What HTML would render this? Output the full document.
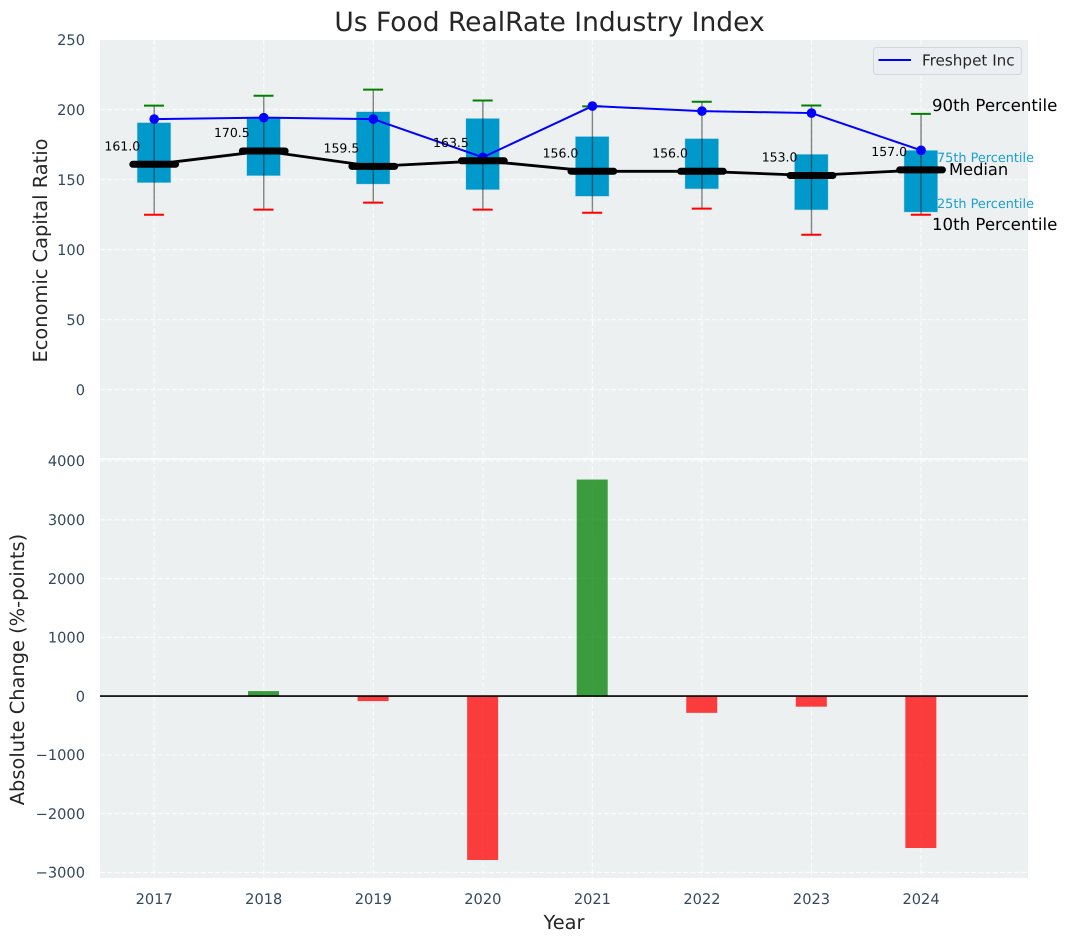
<!DOCTYPE html>
<html lang="en">
<head>
<meta charset="utf-8">
<title>Us Food RealRate Industry Index</title>
<style>
html,body{margin:0;padding:0;background:#fff;}
body{width:1067px;height:942px;overflow:hidden;}
svg{display:block;font-family:"DejaVu Sans","Liberation Sans",sans-serif;text-rendering:geometricPrecision;}
</style>
</head>
<body>
<svg id="chart" xmlns="http://www.w3.org/2000/svg" width="1067" height="942" viewBox="0 0 1067 942">
  <text x="549.5" y="31" text-anchor="middle" font-size="26.5" fill="#262626">Us Food RealRate Industry Index</text>
  <rect x="100" y="40" width="928" height="419" fill="#ecf0f1"/>
  <rect x="100" y="459" width="928" height="419" fill="#ecf0f1"/>
  <g id="grid"></g>
  <line x1="100" y1="459" x2="1028" y2="459" stroke="#ffffff" stroke-width="1.5"/>
  <g id="bars"></g>
  <g id="boxes"></g>
  <g id="lines"></g>
  <g id="ticks"></g>
  <g id="labels"></g>
  <text transform="translate(47,250.5) rotate(-90)" text-anchor="middle" font-size="19.4" fill="#262626">Economic Capital Ratio</text>
  <text transform="translate(24,669.5) rotate(-90)" text-anchor="middle" font-size="19.4" fill="#262626">Absolute Change (%-points)</text>
  <text x="564" y="929" text-anchor="middle" font-size="19.4" fill="#262626">Year</text>
  <g>
    <text x="932" y="111" font-size="16.6" fill="#000000">90th Percentile</text>
    <text x="937" y="162" font-size="12.85" fill="#1a9fcf">75th Percentile</text>
    <text x="949" y="175" font-size="16.3" fill="#000000">Median</text>
    <text x="937" y="208" font-size="12.85" fill="#1a9fcf">25th Percentile</text>
    <text x="932" y="230" font-size="16.6" fill="#000000">10th Percentile</text>
  </g>
  <g>
    <rect x="873.5" y="47.5" width="148" height="27" rx="3" fill="#ebeef3" stroke="#d3d6da" stroke-width="1"/>
    <line x1="878.5" y1="60" x2="911" y2="60" stroke="#0000ff" stroke-width="2"/>
    <text x="922" y="65.5" font-size="15.2" fill="#262626">Freshpet Inc</text>
  </g>
</svg>
<script>
const years = [2017, 2018, 2019, 2020, 2021, 2022, 2023, 2024];
const p90 = [202.9, 210, 214.3, 206.6, 202.4, 205.7, 203, 197];
const p75 = [190.6, 194, 198.4, 193.6, 180.7, 179.2, 168, 170.8];
const medians = [161.0, 170.5, 159.5, 163.5, 156.0, 156.0, 153.0, 157.0];
const p25 = [148, 153, 147, 143, 138.3, 143.6, 128.6, 127];
const p10 = [125, 128.6, 133.6, 128.6, 126.4, 129.3, 110.7, 125];
const freshpet = [193.3, 194.3, 193.3, 166, 202.6, 199, 197.6, 171];
const changes = [0, 85, -85, -2789, 3685, -285, -180, -2585];
const topTicks = [0, 50, 100, 150, 200, 250];
const bottomTicks = [-3000, -2000, -1000, 0, 1000, 2000, 3000, 4000];

const NS = 'http://www.w3.org/2000/svg';
const xScale = function (year) { return 154.2 + 109.55 * (year - 2017); };
const yTop = function (v) { return 389.7 - 1.4 * v; };
const yBottom = function (v) { return 696.1 - 0.05877 * v; };

function make(parentId, tag, attrs) {
  const el = document.createElementNS(NS, tag);
  for (const k in attrs) el.setAttribute(k, attrs[k]);
  document.getElementById(parentId).appendChild(el);
  return el;
}
function fmt(v) { return String(v).replace('-', '\u2212'); }

const gridStyle = { stroke: '#ffffff', 'stroke-width': 1.1, 'stroke-dasharray': '5 2.2', opacity: 0.85 };

topTicks.forEach(function (t) {
  const y = yTop(t);
  if (y > 40.5) {
    const g = make('grid', 'line', Object.assign({ x1: 100, x2: 1028, y1: y, y2: y }, gridStyle));
    
    
  }
  const lab = make('ticks', 'text', { x: 85, y: y + 5.2, 'text-anchor': 'end', 'font-size': 14.6, fill: '#34495e' });
  lab.textContent = fmt(t);
  
  
});

bottomTicks.forEach(function (t) {
  const y = yBottom(t);
  const g = make('grid', 'line', Object.assign({ x1: 100, x2: 1028, y1: y, y2: y }, gridStyle));
  
  
  const lab = make('ticks', 'text', { x: 85, y: y + 5.2, 'text-anchor': 'end', 'font-size': 14.6, fill: '#34495e' });
  lab.textContent = fmt(t);
  
  
});

years.forEach(function (yr) {
  const x = xScale(yr);
  const gt = make('grid', 'line', Object.assign({ x1: x, x2: x, y1: 40, y2: 459 }, gridStyle));
  
  
  const gb = make('grid', 'line', Object.assign({ x1: x, x2: x, y1: 459, y2: 878 }, gridStyle));
  
  
  const lab = make('ticks', 'text', { x: x, y: 904, 'text-anchor': 'middle', 'font-size': 14.6, fill: '#34495e' });
  lab.textContent = String(yr);
  
  
});

/* change bars */
changes.forEach(function (v, i) {
  if (v === 0) return;
  const top = Math.min(yBottom(v), yBottom(0));
  const h = Math.abs(yBottom(v) - yBottom(0));
  const bar = make('bars', 'rect', {
    x: xScale(years[i]) - 15.7, y: top, width: 31, height: h,
    fill: v > 0 ? '#008000' : '#ff0000', 'fill-opacity': 0.75
  });
  
  
});
const zero = make('bars', 'line', { x1: 100, x2: 1028, y1: yBottom(0), y2: yBottom(0), stroke: '#000000', 'stroke-width': 1.6 });



/* boxes, whiskers, caps */
years.forEach(function (yr, i) {
  const x = xScale(yr);
  const box = make('boxes', 'rect', {
    x: x - 16.8, y: yTop(p75[i]), width: 33.2, height: yTop(p25[i]) - yTop(p75[i]),
    fill: '#0099cc', stroke: '#0099cc', 'stroke-opacity': 0.25, 'stroke-width': 1
  });
  
  
  const wh = make('boxes', 'line', { x1: x, x2: x, y1: yTop(p90[i]), y2: yTop(p10[i]), stroke: '#222222', 'stroke-opacity': 0.55, 'stroke-width': 1.4 });
  
  
  const capHi = make('boxes', 'line', { x1: x - 10.2, x2: x + 9.8, y1: yTop(p90[i]), y2: yTop(p90[i]), stroke: '#008000', 'stroke-width': 2 });
  
  
  const capLo = make('boxes', 'line', { x1: x - 10.2, x2: x + 9.8, y1: yTop(p10[i]), y2: yTop(p10[i]), stroke: '#ff0000', 'stroke-width': 2 });
  
  
});

/* freshpet series */
function polyPoints(values) {
  return values.map(function (v, i) { return xScale(years[i]) + ',' + yTop(v); }).join(' ');
}
const fresh = make('lines', 'polyline', { points: polyPoints(freshpet), fill: 'none', stroke: '#0000ff', 'stroke-width': 2 });


freshpet.forEach(function (v, i) {
  const dot = make('lines', 'circle', { cx: xScale(years[i]), cy: yTop(v), r: 4.8, fill: '#0000ff' });
  
  
});

/* median series */
const medLine = make('lines', 'polyline', { points: polyPoints(medians), fill: 'none', stroke: '#000000', 'stroke-width': 2.8 });


medians.forEach(function (v, i) {
  const x = xScale(years[i]);
  const mark = make('lines', 'line', { x1: x - 21.4, x2: x + 21.4, y1: yTop(v), y2: yTop(v), stroke: '#000000', 'stroke-width': 7, 'stroke-linecap': 'round' });
  
  
  const lab = make('labels', 'text', { x: x - 14, y: yTop(v) - 14, 'text-anchor': 'end', 'font-size': 12.5, fill: '#000000' });
  lab.textContent = v.toFixed(1);
  
  
});
</script>
</body>
</html>
